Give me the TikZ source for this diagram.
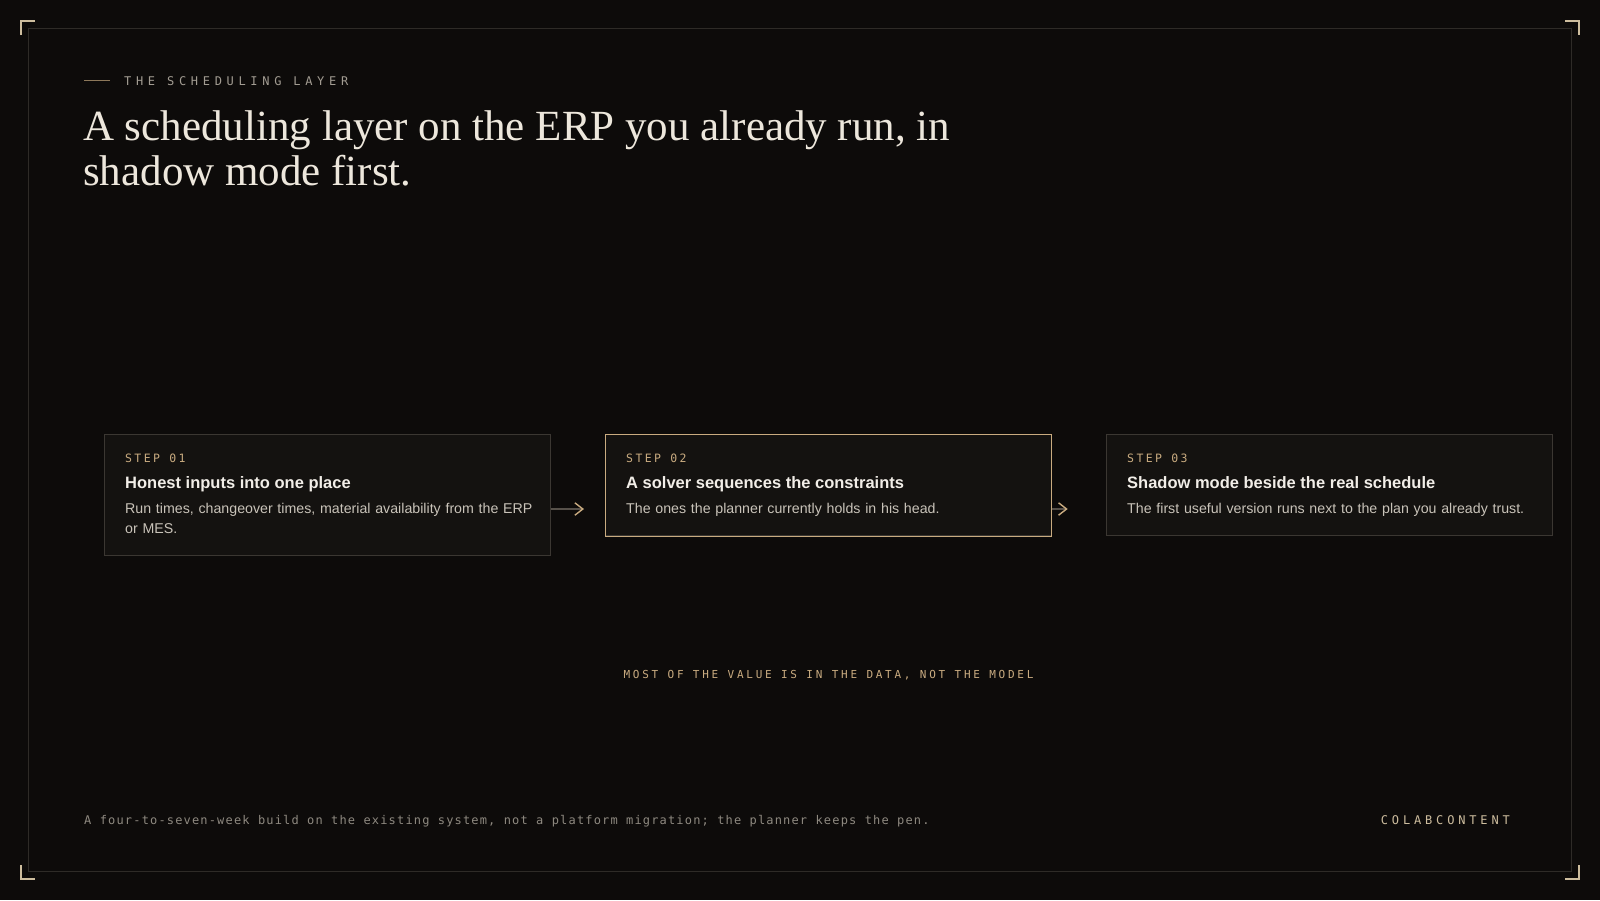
\documentclass[tikz,border=0pt]{standalone}
\usepackage{fontspec}
\setsansfont{Liberation Sans}
\newfontfamily\headlinefont{Liberation Serif}
\newfontfamily\eyebrowfont[LetterSpace=39]{DejaVu Sans Mono}
\newfontfamily\steplabelfont[LetterSpace=20.7]{DejaVu Sans Mono}
\newfontfamily\notefont[LetterSpace=24.9]{DejaVu Sans Mono}
\newfontfamily\footerfont[LetterSpace=9.7]{DejaVu Sans Mono}
\newfontfamily\brandfont[LetterSpace=32]{DejaVu Sans Mono}
\usetikzlibrary{positioning,arrows.meta}

\definecolor{bgdark}{HTML}{0D0B0A}
\definecolor{framegray}{HTML}{2E2B27}
\definecolor{boxfill}{HTML}{141210}
\definecolor{boxline}{HTML}{3B3732}
\definecolor{gold}{HTML}{C9AB80}
\definecolor{cornergold}{HTML}{CDBD9E}
\definecolor{titlecream}{HTML}{EDE7DC}
\definecolor{mutedgray}{HTML}{A29C92}
\definecolor{footgray}{HTML}{8E8980}
\definecolor{bodytext}{HTML}{C9C3B9}
\definecolor{headwhite}{HTML}{F2EEE8}
\definecolor{arrowgray}{HTML}{57514A}

\begin{document}
\begin{tikzpicture}[x=1pt, y=-1pt,
  stepbox/.style={draw=boxline, fill=boxfill, line width=1pt, minimum width=445.4pt,
    minimum height=101pt, anchor=north west, inner sep=0pt},
  steplabel/.style={anchor=base west, inner sep=0pt, text=gold,
    font=\steplabelfont\fontsize{11.5}{14}\selectfont},
  steptitle/.style={anchor=base west, inner sep=0pt, text=headwhite,
    font=\sffamily\bfseries\fontsize{16.5}{20}\selectfont},
  stepdesc/.style={anchor=base west, inner sep=0pt, text=bodytext, text width=412pt,
    align=left, font=\sffamily\fontsize{14.2}{19.6}\selectfont},
  flowarrow/.style={arrowgray, line width=1.2pt,
    -{Straight Barb[length=8pt, width=12.4pt, color=gold, line width=1.4pt]}},
  corner/.style={cornergold, line width=1.3pt}]

\fill[bgdark] (0,0) rectangle (1600,900);
\useasboundingbox (0,0) rectangle (1600,900);
\draw[framegray, line width=1pt] (28.5,28.5) rectangle (1571.5,871.5);

% corner marks
\draw[corner] (21,35) -- (21,21) -- (35,21);
\draw[corner] (1565,21) -- (1579,21) -- (1579,35);
\draw[corner] (21,865) -- (21,879) -- (35,879);
\draw[corner] (1565,879) -- (1579,879) -- (1579,865);

% heading
\node[anchor=base west, inner sep=0pt, text=mutedgray,
  font=\eyebrowfont\fontsize{12}{14}\selectfont] (eyebrow) at (124,85) {THE SCHEDULING LAYER};
\draw[gold!70!black, line width=1pt] ([xshift=-14pt,yshift=4.5pt]eyebrow.base west) -- ++(-26,0);
\node[anchor=base west, inner sep=0pt, text=titlecream, align=left,
  font=\headlinefont\fontsize{43}{45}\selectfont] (headline) at (83,185)
  {A scheduling layer on the ERP you already run, in\\shadow mode first.};

% the three steps
\node[stepbox, minimum height=121pt] (one) at (104.3,434.3) {};
\node[stepbox, right=54.6pt of one.north east, anchor=north west] (two) {};
\node[stepbox, right=54.6pt of two.north east, anchor=north west] (three) {};
\draw[gold, line width=1pt] (two.north west) rectangle (two.south east);

\node[steplabel] (lblone) at ([shift={(20.7,28)}]one.north west) {STEP 01};
\node[steptitle] (ttlone) at ([yshift=-26pt]lblone.base west) {Honest inputs into one place};
\node[stepdesc] (dscone) at ([yshift=-25.4pt]ttlone.base west)
  {Run times, changeover times, material availability from the ERP or MES.};

\node[steplabel] (lbltwo) at ([shift={(20.7,28)}]two.north west) {STEP 02};
\node[steptitle] (ttltwo) at ([yshift=-26pt]lbltwo.base west) {A solver sequences the constraints};
\node[stepdesc] (dsctwo) at ([yshift=-25.4pt]ttltwo.base west)
  {The ones the planner currently holds in his head.};

\node[steplabel] (lblthree) at ([shift={(20.7,28)}]three.north west) {STEP 03};
\node[steptitle] (ttlthree) at ([yshift=-26pt]lblthree.base west) {Shadow mode beside the real schedule};
\node[stepdesc] (dscthree) at ([yshift=-25.4pt]ttlthree.base west)
  {The first useful version runs next to the plan you already trust.};

\coordinate (outone) at ([yshift=-74.7pt]one.north east);
\coordinate (tipone) at ([xshift=33.3pt]outone);
\coordinate (outtwo) at ([yshift=-74.7pt]two.north east);
\coordinate (tiptwo) at ([xshift=16pt]outtwo);
\draw[flowarrow] (outone) -- (tipone);
\draw[flowarrow] (outtwo) -- (tiptwo);

% notes
\node[anchor=base, inner sep=0pt, text=gold, font=\notefont\fontsize{11}{13}\selectfont]
  (takeaway) at ([yshift=-142pt]two.south) {MOST OF THE VALUE IS IN THE DATA, NOT THE MODEL};
\node[anchor=base west, inner sep=0pt, text=footgray, font=\footerfont\fontsize{12}{14}\selectfont]
  (footline) at (84,824) {A four-to-seven-week build on the existing system, not a platform migration; the planner keeps the pen.};
\node[anchor=base east, inner sep=0pt, text=cornergold, font=\brandfont\fontsize{12}{14}\selectfont]
  (brandmark) at (1510,824) {COLABCONTENT};
\end{tikzpicture}
\end{document}
